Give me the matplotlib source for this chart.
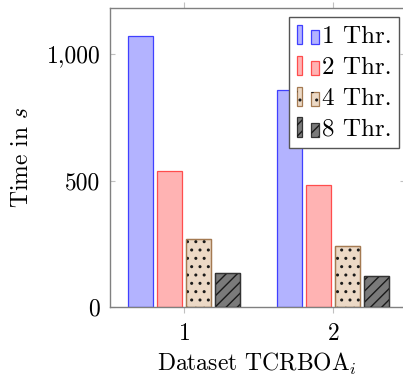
import matplotlib
matplotlib.use("Agg")
import matplotlib.pyplot as plt
import matplotlib.patches as mpatches
from matplotlib.legend_handler import HandlerBase
from matplotlib.ticker import FuncFormatter, FixedLocator
import numpy as np

# data
datasets = [1, 2]
series_labels = ["1 Thr.", "2 Thr.", "4 Thr.", "8 Thr."]
time_1thr = [1070, 860]
time_2thr = [537, 484]
time_4thr = [270, 244]
time_8thr = [137, 122]
y_ticks = [0, 500, 1000]

plt.rcParams["font.family"] = "cmr10"
plt.rcParams["mathtext.fontset"] = "cm"
plt.rcParams["axes.formatter.use_mathtext"] = True
plt.rcParams["hatch.linewidth"] = 1.0
FS = 17
LEG_FS = 18

# face, edge, hatch, hatch colour
styles = [
    ("#b3b3ff", "#4040ff", None, None),
    ("#ffb3b3", "#ff4d4d", None, None),
    ("#ecd9c6", "#a47a52", "..", "#1a1a1a"),
    ("#7a7a7a", "#333333", "///", "#1a1a1a"),
]
series = [time_1thr, time_2thr, time_4thr, time_8thr]

fig = plt.figure(figsize=(4.03, 3.80), dpi=100)
ax = fig.add_axes([110 / 403, 1 - 307.3 / 380, (404.5 - 110) / 403, (307.3 - 8.3) / 380])

x = np.array(datasets, dtype=float)
bar_w = 0.168
step = 0.195
offsets = (np.arange(len(series)) - 1.5) * step

for vals, off, (face, edge, hatch, hcol) in zip(series, offsets, styles):
    ax.bar(x + off, vals, bar_w, facecolor=face, edgecolor=edge, linewidth=0.9, zorder=2)
    if hatch:
        ax.bar(x + off, vals, bar_w, facecolor="none", edgecolor=hcol, linewidth=0,
               hatch=hatch, zorder=3)
        ax.bar(x + off, vals, bar_w, facecolor="none", edgecolor=edge, linewidth=0.9, zorder=4)

ax.set_xlim(0.5, 2.48)
ax.set_ylim(0, 1181)
ax.set_xticks(datasets)
ax.yaxis.set_major_locator(FixedLocator(y_ticks))
ax.yaxis.set_major_formatter(FuncFormatter(lambda v, p: f"{int(v):,}"))

for s in ax.spines.values():
    s.set_color("#808080")
    s.set_linewidth(1.0)

ax.tick_params(axis="x", direction="out", top=True, length=4.5, width=0.8,
               color="#c0c0c0", labelsize=FS, pad=7)
ax.tick_params(axis="y", direction="in", right=True, length=3.8, width=0.8,
               color="#c0c0c0", labelsize=FS, pad=7)

ax.set_xlabel("Dataset TCRBOA$_i$", fontsize=FS, labelpad=4)
ax.set_ylabel("Time in $s$", fontsize=FS, labelpad=10)


class TwoBarHandler(HandlerBase):
    def __init__(self, style):
        super().__init__()
        self.style = style

    def create_artists(self, legend, orig_handle, xdescent, ydescent, width, height,
                       fontsize, trans):
        face, edge, hatch, hcol = self.style
        x0, y0 = -xdescent, -ydescent
        out = []
        for bx, bw, bh in [(0.0, 0.23, 1.0), (0.67, 0.33, 0.73)]:
            r = mpatches.Rectangle((x0 + bx * width, y0), bw * width, bh * height,
                                   facecolor=face, edgecolor=edge, linewidth=0.9,
                                   transform=trans)
            out.append(r)
            if hatch:
                hr = mpatches.Rectangle((x0 + bx * width, y0), bw * width, bh * height,
                                        facecolor="none", edgecolor=hcol, linewidth=0,
                                        hatch=hatch, transform=trans)
                out.append(hr)
        return out


handles = [mpatches.Patch(label=l) for l in series_labels]
hmap = {h: TwoBarHandler(st) for h, st in zip(handles, styles)}
leg = ax.legend(handles=handles, handler_map=hmap, loc="upper right",
                bbox_to_anchor=(399 / 403, 1 - 17.3 / 380), bbox_transform=fig.transFigure,
                borderaxespad=0, fontsize=LEG_FS, frameon=True, fancybox=False,
                handlelength=0.88, handleheight=0.82, handletextpad=0.12,
                labelspacing=0.3, borderpad=0.3)
leg.get_frame().set_edgecolor("#555555")
leg.get_frame().set_linewidth(1.0)
leg.get_frame().set_alpha(1)

fig.savefig("out.png", dpi=100)
